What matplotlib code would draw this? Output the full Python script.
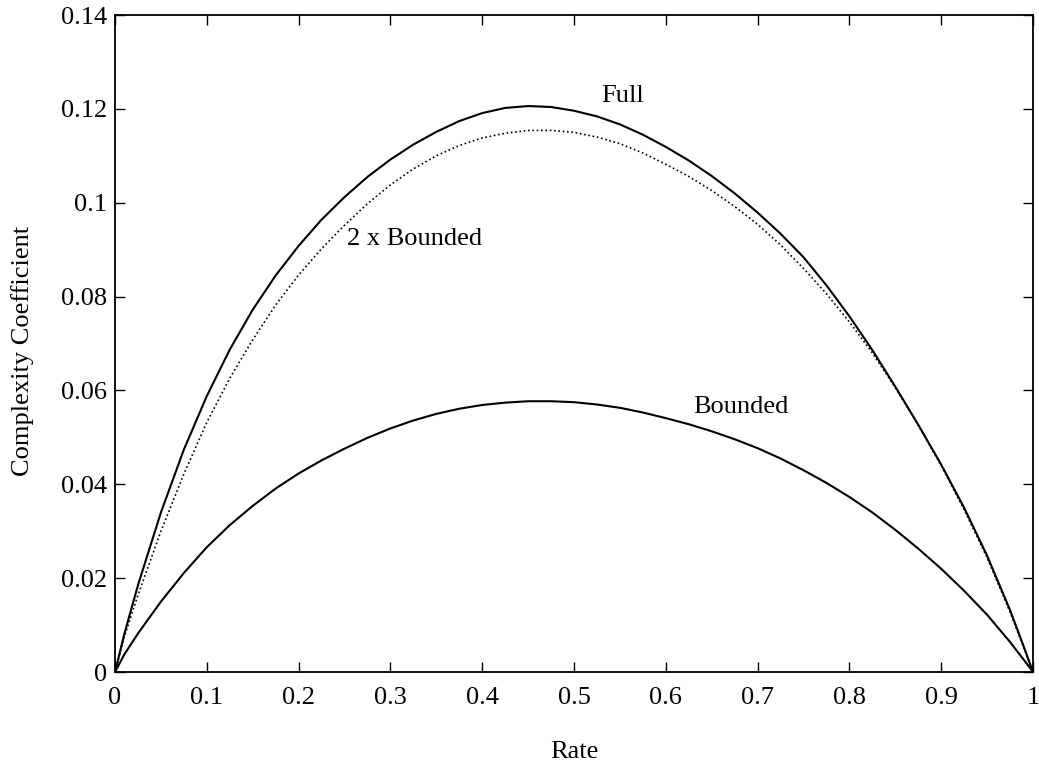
import numpy as np
import matplotlib.pyplot as plt

# Hodnoty
rate = [0, 0.01, 0.025, 0.05, 0.075, 0.1, 0.125, 0.15, 0.175, 0.2, 0.225, 0.25,
        0.275, 0.3, 0.325, 0.35, 0.375, 0.4, 0.425, 0.45, 0.475, 0.5, 0.525,
        0.55, 0.575, 0.6, 0.625, 0.65, 0.675, 0.7, 0.725, 0.75, 0.775, 0.8,
        0.825, 0.85, 0.875, 0.9, 0.925, 0.95, 0.975, 0.99, 1.0]

full = [0, 0.0080, 0.0185, 0.0340, 0.0474, 0.0588, 0.0687, 0.0772, 0.0845, 0.0908,
        0.0964, 0.1012, 0.1055, 0.1092, 0.1124, 0.1151, 0.1174, 0.1191, 0.1202,
        0.1206, 0.1204, 0.1196, 0.1184, 0.1167, 0.1145, 0.1119, 0.1090, 0.1057,
        0.1020, 0.0979, 0.0934, 0.0884, 0.0824, 0.0758, 0.0686, 0.0608, 0.0527,
        0.0442, 0.0350, 0.0248, 0.0132, 0.0054, 0]

bounded = [0, 0.0037, 0.0082, 0.0150, 0.0211, 0.0266, 0.0313, 0.0354, 0.0391, 0.0423,
           0.0451, 0.0476, 0.0499, 0.0519, 0.0536, 0.0550, 0.0561, 0.0569, 0.0574,
           0.0577, 0.0577, 0.0575, 0.0570, 0.0563, 0.0553, 0.0541, 0.0528, 0.0513,
           0.0496, 0.0477, 0.0455, 0.0430, 0.0403, 0.0373, 0.0340, 0.0303, 0.0263,
           0.0220, 0.0173, 0.0122, 0.0064, 0.0026, 0]

two_x_bounded = 2 * np.array(bounded)

x_ticks = np.arange(0, 1.01, 0.1)
y_ticks = np.arange(0, 0.141, 0.02)
x_ticklabels = ['0', '0.1', '0.2', '0.3', '0.4', '0.5', '0.6', '0.7', '0.8', '0.9', '1']
y_ticklabels = ['0', '0.02', '0.04', '0.06', '0.08', '0.1', '0.12', '0.14']

plt.rcParams['font.family'] = ['Liberation Serif', 'DejaVu Serif']
plt.rcParams['font.size'] = 19

fig = plt.figure(figsize=(10.39, 7.62), dpi=100)
ax = fig.add_axes([0.1107, 0.1181, 0.8835, 0.8622])

ax.plot(rate, full, color='black', lw=1.5)
ax.plot(rate, bounded, color='black', lw=1.5)
ax.plot(rate, two_x_bounded, color='black', lw=1.2, linestyle=(0, (1, 1.6)))

ax.set_xlim(0, 1)
ax.set_ylim(0, 0.14)
ax.set_xticks(x_ticks)
ax.set_xticklabels(x_ticklabels)
ax.set_yticks(y_ticks)
ax.set_yticklabels(y_ticklabels)

ax.tick_params(direction='in', length=7, width=1, top=True, right=True)
ax.tick_params(axis='x', pad=10.5)
ax.tick_params(axis='y', pad=5.5)
for s in ax.spines.values():
    s.set_linewidth(1.3)

# Popisky křivek
ax.text(0.530, 0.1215, 'Full', ha='left', va='baseline')
ax.text(0.2527, 0.0910, '2 x Bounded', ha='left', va='baseline')
ax.text(0.630, 0.0552, 'Bounded', ha='left', va='baseline')

ax.set_xlabel('Rate', va='baseline')
ax.xaxis.set_label_coords(0.5, -0.1309)
ax.set_ylabel('Complexity Coefficient')
ax.yaxis.set_label_coords(-0.0888, 0.488)

fig.savefig('out.png', dpi=100)
